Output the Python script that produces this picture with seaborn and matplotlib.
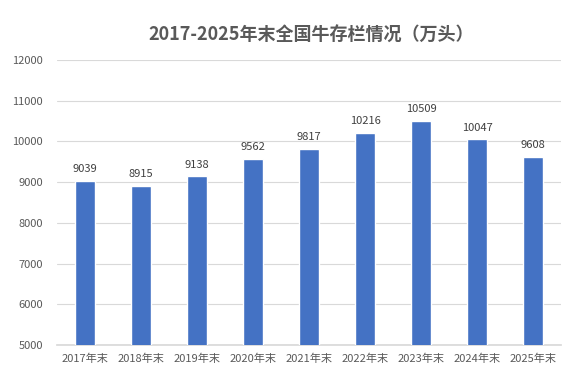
import matplotlib
matplotlib.use("Agg")
import matplotlib.pyplot as plt
import seaborn as sns
import pandas as pd

years = ["2017年末", "2018年末", "2019年末", "2020年末", "2021年末",
         "2022年末", "2023年末", "2024年末", "2025年末"]
stock = [9039, 8915, 9138, 9562, 9817, 10216, 10509, 10047, 9608]
yticks = [5000, 6000, 7000, 8000, 9000, 10000, 11000, 12000]

sns.set_theme(style="white")
plt.rcParams['font.family'] = ['Noto Sans CJK SC', 'DejaVu Sans']

df = pd.DataFrame({"year": years, "stock": stock})

fig = plt.figure(figsize=(5.76, 3.92), dpi=100)
ax = fig.add_axes([0.099, 0.12, 0.875, 0.727])

sns.barplot(data=df, x="year", y="stock", color="#4472C4", saturation=1,
            width=0.36, ax=ax, zorder=3)

ax.set_ylim(5000, 12000)
ax.set_yticks(yticks)
ax.yaxis.grid(True, color="#D9D9D9", linewidth=0.8, zorder=0)
ax.set_xlabel("")
ax.set_ylabel("")
for s in ["top", "right", "left"]:
    ax.spines[s].set_visible(False)
ax.spines["bottom"].set_color("#D9D9D9")
ax.tick_params(axis="both", length=0, labelsize=8, colors="#595959", pad=6)
ax.tick_params(axis="y", pad=10)

for i, v in enumerate(stock):
    ax.text(i, v + 170, str(v), ha="center", va="bottom", fontsize=8, color="#404040")

fig.suptitle("2017-2025年末全国牛存栏情况（万头）", x=0.54, y=0.935, fontsize=13,
             fontweight="bold", color="#595959")

fig.savefig("out.png", dpi=100)
